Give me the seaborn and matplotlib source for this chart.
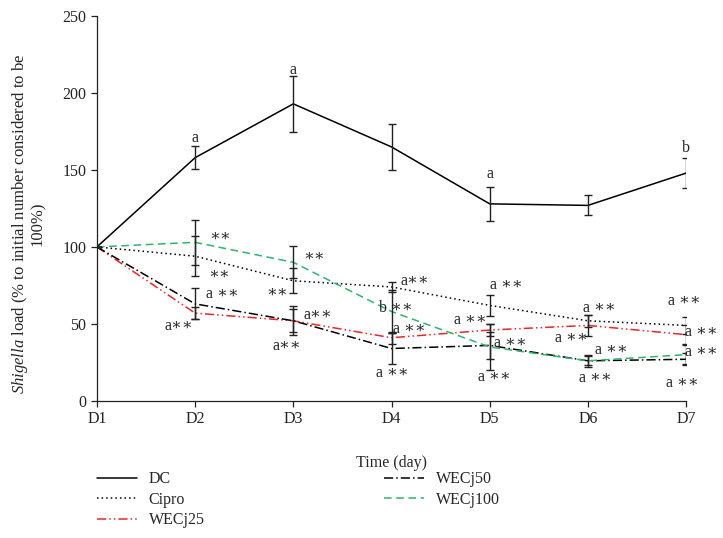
import numpy as np
import pandas as pd
import matplotlib
matplotlib.use("Agg")
import matplotlib.pyplot as plt
import seaborn as sns


days = ["D1", "D2", "D3", "D4", "D5", "D6", "D7"]
groups = ["DC", "Cipro", "WECj25", "WECj50", "WECj100"]

dc_mean      = [100, 158, 193, 165, 128, 127, 148]
dc_err       = [0, 7.5, 18, 15, 11, 6.5, 9.5]
cipro_mean   = [100, 94, 78, 74, 62, 52, 49]
cipro_err    = [0, 13, 8, 3.5, 7, 4, 5.5]
wecj25_mean  = [100, 57, 52, 41, 46, 49, 43]
wecj25_err   = [0, 4, 7.5, 4, 4, 7, 6]
wecj50_mean  = [100, 63, 52, 34, 36, 26, 27]
wecj50_err   = [0, 10, 9.5, 10, 9, 3, 4]
wecj100_mean = [100, 103, 90, 58, 35, 26, 30]
wecj100_err  = [0, 14.5, 10.5, 14, 15, 4, 6]

means = [dc_mean, cipro_mean, wecj25_mean, wecj50_mean, wecj100_mean]
errs  = [dc_err, cipro_err, wecj25_err, wecj50_err, wecj100_err]

# significance letters: (text, x in day index, y in data units, horizontal alignment)
annotations = [
    ("a", 1.0, 170.8, "center"), ("a", 2.0, 215, "center"),
    ("a", 4.0, 147.4, "center"), ("b", 6.0, 164.3, "center"),
    ("∗∗", 1.15, 106.7, "left"), ("∗∗", 1.13, 81.8, "left"),
    ("a ∗∗", 1.11, 69.5, "left"), ("a∗∗", 0.98, 48.7, "right"),
    ("∗∗", 2.10, 93.7, "left"), ("∗∗", 1.95, 70, "right"),
    ("a∗∗", 2.10, 55.8, "left"), ("a∗∗", 1.79, 35.3, "left"),
    ("a∗∗", 3.09, 78, "left"), ("b ∗∗", 2.87, 60.4, "left"),
    ("a ∗∗", 3.02, 46.8, "left"), ("a ∗∗", 2.84, 18.2, "left"),
    ("a ∗∗", 4.00, 75.3, "left"), ("a ∗∗", 3.97, 52.2, "right"),
    ("a ∗∗", 4.04, 37.7, "left"), ("a ∗∗", 3.88, 15.6, "left"),
    ("a ∗∗", 4.95, 60.6, "left"), ("a ∗∗", 4.66, 40.9, "left"),
    ("a ∗∗", 5.07, 32.7, "left"), ("a ∗∗", 4.91, 14.9, "left"),
    ("a ∗∗", 5.82, 65, "left"), ("a ∗∗", 5.99, 45, "left"),
    ("a ∗∗", 5.99, 31.4, "left"), ("a ∗∗", 5.79, 11.7, "left"),
]

palette = {"DC": "black", "Cipro": "black", "WECj25": "#e8262b",
           "WECj50": "black", "WECj100": "#2db56d"}
dashes = {"DC": "", "Cipro": (1, 2), "WECj25": (6, 2, 1, 2, 1, 2),
          "WECj50": (6, 2, 1, 2), "WECj100": (5, 3)}

rows = []
for g, m in zip(groups, means):
    for i, v in enumerate(m):
        rows.append({"day": i, "load": v, "group": g})
df = pd.DataFrame(rows)

sns.set_style("ticks")
plt.rcParams["font.family"] = ["Liberation Serif", "DejaVu Serif"]
plt.rcParams["mathtext.fontset"] = "custom"
plt.rcParams["mathtext.it"] = "Liberation Serif:italic"
plt.rcParams["mathtext.rm"] = "Liberation Serif"

fs = 11.5

fig = plt.figure(figsize=(7.23, 5.38), dpi=100)
ax = fig.add_axes([0.134, 0.255, 0.815, 0.715])

sns.lineplot(data=df, x="day", y="load", hue="group", style="group",
             hue_order=groups, style_order=groups, palette=palette,
             dashes=dashes, linewidth=1.1, ax=ax)

for m, e in zip(means, errs):
    ax.errorbar(range(len(days)), m, yerr=e, fmt="none", ecolor="#222222",
                elinewidth=1.0, capsize=3, capthick=1.0, zorder=3)

for txt, x, y, ha in annotations:
    ax.text(x, y, txt, ha=ha, va="center", fontsize=fs)

ax.set_xlim(0, 6)
ax.set_ylim(0, 250)
ax.set_xticks(range(len(days)))
ax.set_xticklabels(days)
ax.set_yticks(np.arange(0, 251, 50))
ax.tick_params(labelsize=fs, length=4, width=0.9, colors="#222222")
for s in ["left", "bottom"]:
    ax.spines[s].set_linewidth(0.9)
    ax.spines[s].set_color("#222222")
sns.despine(ax=ax)

ax.set_xlabel("Time (day)", fontsize=fs, labelpad=20)
ax.set_ylabel("$\\it{Shigella}$ load (% to initial number considered to be\n100%)",
              fontsize=12, linespacing=1.05)
ax.yaxis.set_label_coords(-0.086, 0.46)

handles, labels = ax.get_legend_handles_labels()
ax.get_legend().remove()
fig.legend(handles, labels, loc="upper left", bbox_to_anchor=(0.134, 0.124),
           bbox_transform=fig.transFigure, ncol=2, frameon=False, fontsize=fs,
           handlelength=2.5, handletextpad=0.75, columnspacing=11.2,
           labelspacing=0.28, borderpad=0, borderaxespad=0)

plt.savefig("out.png", dpi=100)
plt.close()
